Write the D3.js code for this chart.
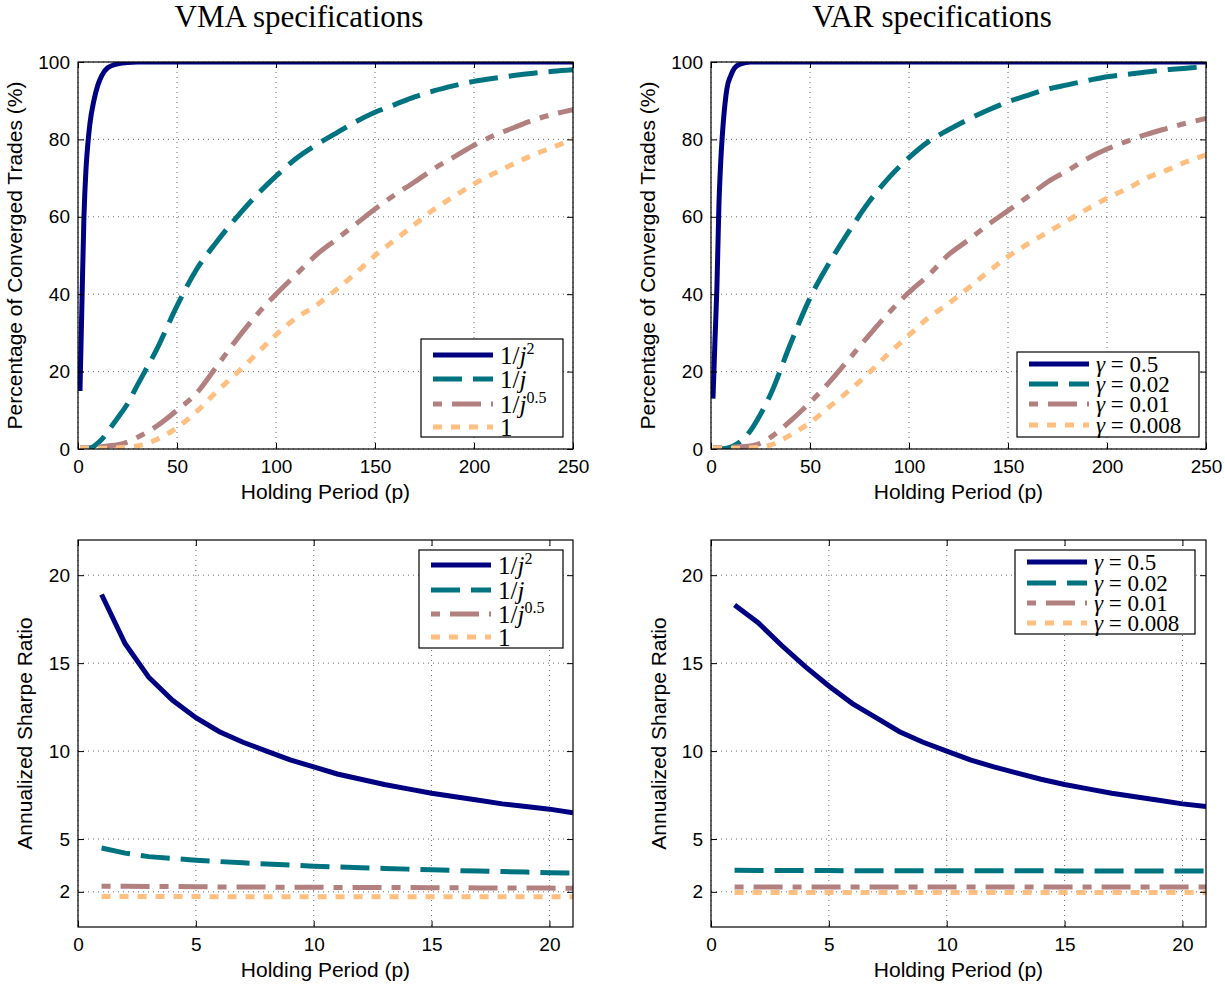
<!DOCTYPE html>
<html>
<head>
<meta charset="utf-8">
<script src="https://cdn.jsdelivr.net/npm/d3@7"></script>
<style>
body { margin: 0; background: #fff; }
text { font-family: "Liberation Sans", Arial, sans-serif; }
.serif { font-family: "Liberation Serif", "DejaVu Serif", serif; }
</style>
</head>
<body>
<svg id="chart" width="1225" height="986"></svg>
<script>
// holding periods (top row: convergence, bottom row: sharpe)
const convP = [1, 2, 3, 4, 5, 6, 8, 10, 12, 15, 20, 25, 30, 40, 50, 60, 70, 80, 90, 100,
    110, 120, 130, 140, 150, 160, 170, 180, 190, 200, 210, 220, 230, 240, 250];
const sharpeP = [1, 2, 3, 4, 5, 6, 7, 8, 9, 10, 11, 12, 13, 14, 15, 16, 17, 18, 19, 20, 21];

// VMA: percentage of converged trades
const vmaConvJ2 = [15, 38, 60, 72, 79, 84, 90, 94, 96.5, 98.5, 99.5, 99.9, 100, 100, 100, 100, 100, 100, 100, 100,
    100, 100, 100, 100, 100, 100, 100, 100, 100, 100, 100, 100, 100, 100, 100];
const vmaConvJ1 = [0, 0, 0, 0.1, 0.2, 0.3, 0.7, 1.5, 2.5, 4.5, 8, 11.7, 16.5, 26, 37, 46.5, 53.5, 59.8, 65.5, 70.5,
    75, 78.5, 81.5, 84.5, 87, 89, 91, 92.6, 93.9, 95, 95.8, 96.5, 97.1, 97.6, 98];
const vmaConvJ05 = [0.3, 0.3, 0.3, 0.3, 0.3, 0.3, 0.4, 0.5, 0.6, 0.8, 1.1, 1.8, 3, 6, 10, 14.5, 21.3, 28.2, 34.5, 40,
    45, 50, 54, 58, 62, 65.7, 69, 72.5, 75.5, 78.5, 81, 83, 85, 86.5, 87.7];
const vmaConvOne = [0.2, 0.2, 0.2, 0.2, 0.2, 0.2, 0.2, 0.2, 0.2, 0.2, 0.3, 0.5, 0.8, 2.5, 5.5, 9.7, 14.8, 19.5, 24.5, 29.5,
    33.8, 37, 41, 45.3, 50, 54, 58, 62, 65.3, 68.5, 71.2, 73.7, 76, 78, 80];

// VAR: percentage of converged trades
const varConvG05 = [13, 28, 42, 63, 75, 83, 93, 96.5, 98.5, 99.5, 100, 100, 100, 100, 100, 100, 100, 100, 100, 100,
    100, 100, 100, 100, 100, 100, 100, 100, 100, 100, 100, 100, 100, 100, 100];
const varConvG002 = [0, 0, 0, 0, 0, 0.1, 0.2, 0.5, 1, 2, 4.8, 9, 14, 27, 39, 48.3, 56.5, 64, 70.2, 75.3,
    79.5, 82.5, 85.2, 87.6, 89.7, 91.4, 93, 94.1, 95.2, 96.2, 96.8, 97.4, 98, 98.4, 98.8];
const varConvG001 = [0.3, 0.3, 0.3, 0.3, 0.3, 0.3, 0.3, 0.4, 0.5, 0.6, 0.8, 1.5, 3, 7.2, 12, 17.4, 23.4, 29.5, 35.3, 40.5,
    45, 50.2, 54, 58, 61.6, 65.2, 69, 71.9, 75, 77.5, 79.5, 81.3, 82.8, 84.2, 85.4];
const varConvG0008 = [0.2, 0.2, 0.2, 0.2, 0.2, 0.2, 0.2, 0.2, 0.2, 0.2, 0.3, 0.5, 1, 3.6, 6.8, 11, 15.2, 19.8, 24.8, 29.4,
    34, 37.6, 41.6, 45.8, 49.7, 53, 56, 59, 62, 64.8, 67.2, 70, 72, 74.2, 76];

// VMA: annualized sharpe ratio
const vmaSharpeJ2 = [18.9, 16.1, 14.2, 12.9, 11.9, 11.1, 10.5, 10.0, 9.5, 9.1, 8.7, 8.4, 8.1, 7.85, 7.6,
    7.4, 7.2, 7.0, 6.85, 6.7, 6.5];
const vmaSharpeJ1 = [4.49, 4.2, 4.0, 3.9, 3.8, 3.72, 3.65, 3.58, 3.52, 3.46, 3.41, 3.37, 3.33, 3.29, 3.25,
    3.21, 3.18, 3.15, 3.12, 3.09, 3.06];
const vmaSharpeJ05 = [2.32, 2.31, 2.3, 2.3, 2.29, 2.28, 2.28, 2.27, 2.26, 2.26, 2.25, 2.25, 2.24, 2.24, 2.23,
    2.23, 2.22, 2.22, 2.21, 2.21, 2.2];
const vmaSharpeOne = [1.73, 1.73, 1.73, 1.73, 1.73, 1.72, 1.72, 1.72, 1.72, 1.72, 1.72, 1.72, 1.72, 1.72, 1.72,
    1.72, 1.72, 1.72, 1.72, 1.72, 1.72];

// VAR: annualized sharpe ratio
const varSharpeG05 = [18.3, 17.3, 16.0, 14.8, 13.7, 12.7, 11.9, 11.1, 10.5, 10.0, 9.5, 9.1, 8.75, 8.4, 8.1,
    7.85, 7.6, 7.4, 7.2, 7.0, 6.85];
const varSharpeG002 = [3.22, 3.21, 3.21, 3.21, 3.21, 3.2, 3.2, 3.2, 3.2, 3.2, 3.2, 3.2, 3.2, 3.2, 3.19,
    3.19, 3.19, 3.19, 3.18, 3.18, 3.18];
const varSharpeG001 = [2.28, 2.28, 2.28, 2.28, 2.28, 2.28, 2.28, 2.28, 2.28, 2.28, 2.28, 2.28, 2.28, 2.28, 2.28,
    2.28, 2.28, 2.28, 2.28, 2.28, 2.28];
const varSharpeG0008 = [1.96, 1.96, 1.96, 1.96, 1.96, 1.96, 1.96, 1.96, 1.96, 1.96, 1.96, 1.96, 1.96, 1.96, 1.96,
    1.96, 1.96, 1.96, 1.96, 1.96, 1.96];

// labels and ticks
const vmaLabels = ["1/j^2", "1/j", "1/j^0.5", "1"];
const varLabels = ["γ = 0.5", "γ = 0.02", "γ = 0.01", "γ = 0.008"];
const titles = ["VMA specifications", "VAR specifications"];
const convXTicks = [0, 50, 100, 150, 200, 250];
const convYTicks = [0, 20, 40, 60, 80, 100];
const sharpeXTicks = [0, 5, 10, 15, 20];
const sharpeYTicks = [2, 5, 10, 15, 20];

// line styles
const colors = ["#000080", "#007380", "#b38080", "#ffbf80"];
const dashes = [null, "29,11", "9,10,29,10", "9,9"];

const svg = d3.select("#chart");
const plotW = 495, plotH = 387;

function mathLabel(sel, s) {
    const [base, sup] = s.split("^");
    base.split(/([jγ])/).filter(d => d).forEach(t => {
        sel.append("tspan")
            .attr("font-style", /[jγ]/.test(t) ? "italic" : null)
            .text(t);
    });
    if (sup) sel.append("tspan").attr("dy", -10).attr("font-size", 16).text(sup);
}

function drawPanel(cfg, idx) {
    const g = svg.append("g").attr("transform", `translate(${cfg.left},${cfg.top})`);
    const x = d3.scaleLinear().domain(cfg.xDomain).range([0, plotW]);
    const y = d3.scaleLinear().domain(cfg.yDomain).range([plotH, 0]);

    // dotted grid
    const grid = g.append("g").attr("stroke", "#444").attr("stroke-width", 0.8)
        .attr("stroke-dasharray", "1,4");
    cfg.xTicks.forEach(t => grid.append("line")
        .attr("x1", x(t)).attr("x2", x(t)).attr("y1", 0).attr("y2", plotH));
    cfg.yTicks.forEach(t => grid.append("line")
        .attr("x1", 0).attr("x2", plotW).attr("y1", y(t)).attr("y2", y(t)));

    // series
    const clipId = "clip" + idx;
    g.append("clipPath").attr("id", clipId).append("rect")
        .attr("width", plotW).attr("height", plotH);
    const line = d3.line()
        .x((d, i) => x(cfg.p[i]))
        .y(d => y(d))
        .curve(cfg.curve);
    cfg.series.forEach((s, i) => {
        g.append("path")
            .attr("clip-path", `url(#${clipId})`)
            .attr("d", line(s))
            .attr("fill", "none")
            .attr("stroke", colors[i])
            .attr("stroke-width", 5)
            .attr("stroke-dasharray", dashes[i]);
    });

    // axes with inward ticks on all four sides
    const styleAxis = a => {
        a.select(".domain").remove();
        a.selectAll("line").attr("stroke", "#000");
        a.selectAll("text").attr("font-size", 19).attr("fill", "#000")
            .attr("font-family", '"Liberation Sans", Arial, sans-serif');
    };
    g.append("g").attr("transform", `translate(0,${plotH})`)
        .call(d3.axisBottom(x).tickValues(cfg.xTicks).tickSizeInner(-6).tickSizeOuter(0).tickPadding(11))
        .call(styleAxis);
    g.append("g")
        .call(d3.axisTop(x).tickValues(cfg.xTicks).tickSizeInner(-6).tickSizeOuter(0).tickFormat(""))
        .call(styleAxis);
    g.append("g")
        .call(d3.axisLeft(y).tickValues(cfg.yTicks).tickSizeInner(-6).tickSizeOuter(0).tickPadding(8))
        .call(styleAxis);
    g.append("g").attr("transform", `translate(${plotW},0)`)
        .call(d3.axisRight(y).tickValues(cfg.yTicks).tickSizeInner(-6).tickSizeOuter(0).tickFormat(""))
        .call(styleAxis);
    g.append("rect").attr("width", plotW).attr("height", plotH)
        .attr("fill", "none").attr("stroke", "#000").attr("stroke-width", 1.2);

    // axis labels
    g.append("text")
        .attr("x", plotW / 2).attr("y", plotH + 43)
        .attr("dy", "0.35em").attr("text-anchor", "middle").attr("font-size", 21)
        .text("Holding Period (p)");
    g.append("text")
        .attr("transform", `translate(${cfg.yLabelX},${plotH / 2}) rotate(-90)`)
        .attr("dy", "0.35em").attr("text-anchor", "middle").attr("font-size", 21)
        .text(cfg.yLabel);

    // legend
    const L = cfg.legend;
    const lg = svg.append("g").attr("transform", `translate(${L.x},${L.y})`);
    lg.append("rect").attr("width", L.w).attr("height", L.h)
        .attr("fill", "#fff").attr("stroke", "#000").attr("stroke-width", 1.2);
    cfg.labels.forEach((lab, i) => {
        const ry = L.rows[i];
        lg.append("line")
            .attr("x1", 12).attr("x2", 72).attr("y1", ry).attr("y2", ry)
            .attr("stroke", colors[i]).attr("stroke-width", 5)
            .attr("stroke-dasharray", dashes[i]);
        const t = lg.append("text").attr("class", "serif")
            .attr("x", 79).attr("y", ry).attr("dy", "0.35em")
            .attr("font-size", L.size);
        mathLabel(t, lab);
    });
}

const panels = [
    { left: 78, top: 62, xDomain: [0, 250], yDomain: [0, 100], xTicks: convXTicks, yTicks: convYTicks,
      p: convP, series: [vmaConvJ2, vmaConvJ1, vmaConvJ05, vmaConvOne], labels: vmaLabels,
      curve: d3.curveMonotoneX, yLabel: "Percentage of Converged Trades (%)", yLabelX: -63,
      legend: { x: 421, y: 339, w: 142, h: 98, rows: [16, 40, 65, 88], size: 25 } },
    { left: 711, top: 62, xDomain: [0, 250], yDomain: [0, 100], xTicks: convXTicks, yTicks: convYTicks,
      p: convP, series: [varConvG05, varConvG002, varConvG001, varConvG0008], labels: varLabels,
      curve: d3.curveMonotoneX, yLabel: "Percentage of Converged Trades (%)", yLabelX: -63,
      legend: { x: 1017, y: 352, w: 182, h: 85, rows: [12, 32, 52, 73], size: 23 } },
    { left: 78, top: 540, xDomain: [0, 21], yDomain: [0, 22], xTicks: sharpeXTicks, yTicks: sharpeYTicks,
      p: sharpeP, series: [vmaSharpeJ2, vmaSharpeJ1, vmaSharpeJ05, vmaSharpeOne], labels: vmaLabels,
      curve: d3.curveLinear, yLabel: "Annualized Sharpe Ratio", yLabelX: -53,
      legend: { x: 419, y: 550, w: 144, h: 98, rows: [15, 40, 64, 87], size: 25 } },
    { left: 711, top: 540, xDomain: [0, 21], yDomain: [0, 22], xTicks: sharpeXTicks, yTicks: sharpeYTicks,
      p: sharpeP, series: [varSharpeG05, varSharpeG002, varSharpeG001, varSharpeG0008], labels: varLabels,
      curve: d3.curveLinear, yLabel: "Annualized Sharpe Ratio", yLabelX: -52,
      legend: { x: 1015, y: 550, w: 180, h: 84, rows: [12, 33, 53, 73], size: 23 } }
];

panels.forEach(drawPanel);

// column titles
titles.forEach((t, i) => {
    svg.append("text").attr("class", "serif")
        .attr("x", i === 0 ? 299 : 932).attr("y", 27)
        .attr("text-anchor", "middle").attr("font-size", 31)
        .text(t);
});
</script>
</body>
</html>
